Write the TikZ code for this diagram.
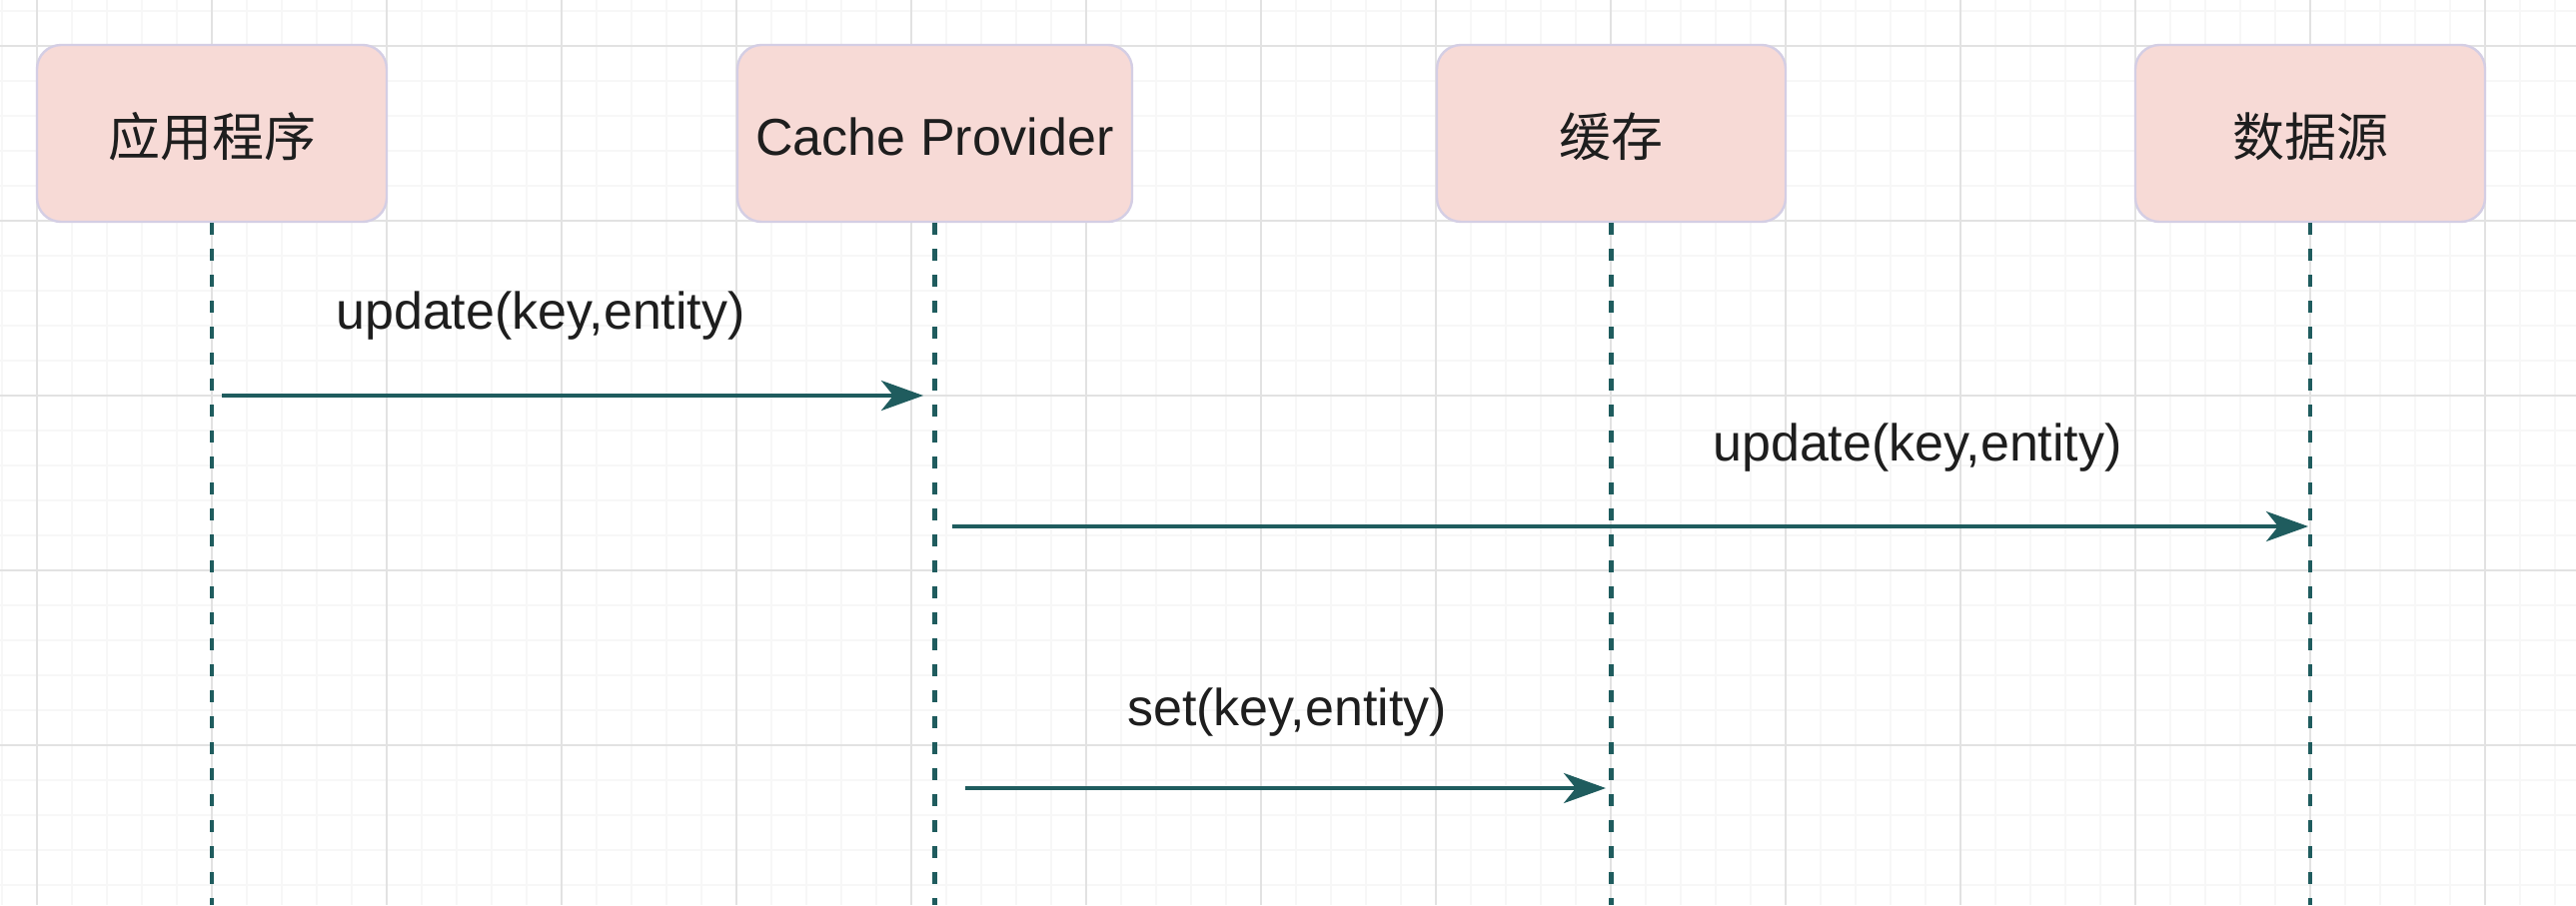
\documentclass[tikz,border=0pt]{standalone}
\usepackage{fontspec}
\setmainfont{Liberation Sans}
\newfontfamily\cjk{Noto Sans CJK SC}
\usetikzlibrary{arrows.meta}
\definecolor{teal1}{HTML}{1F5C5E}
\definecolor{boxfill}{HTML}{F7DAD6}
\definecolor{boxline}{HTML}{D4CEE4}
\definecolor{gridmaj}{HTML}{E2E2E2}
\definecolor{gridmin}{HTML}{F7F7F7}
\definecolor{txt}{HTML}{1E1E1E}
\tikzset{
  actor/.style={draw=boxline, line width=1.2pt, fill=boxfill, rounded corners=12pt,
    minimum height=88.5pt, text=txt, font=\fontsize{26}{30}\selectfont, inner sep=0pt},
  life/.style={draw=teal1, line width=2.2pt, dash pattern=on 6pt off 7pt},
  msg/.style={draw=teal1, line width=2pt, -{Stealth[length=21pt, width=15pt, inset=6pt]}},
  lbl/.style={text=txt, font=\fontsize{26}{30}\selectfont, inner sep=0pt},
  minorline/.style={draw=gridmin, line width=0.8pt},
  majorline/.style={draw=gridmaj, line width=1pt}
}
\begin{document}
\begin{tikzpicture}[x=0.5pt,y=-0.5pt]
\useasboundingbox (0,0) rectangle (2578,906);
\fill[white] (0,0) rectangle (2578,906);
% grid
\foreach \j in {-1,...,72} {\draw[minorline] (37+35*\j,0) -- (37+35*\j,906);}
\foreach \j in {-1,...,25} {\draw[minorline] (0,46+35*\j) -- (2578,46+35*\j);}
\foreach \k in {0,...,14} {\draw[majorline] (37+175*\k,0) -- (37+175*\k,906);}
\foreach \k in {0,...,5} {\draw[majorline] (0,46+175*\k) -- (2578,46+175*\k);}
% bottom reference
\coordinate (bot) at (0,906);
% actors
\node[actor, minimum width=175pt] (app) at (212,133.5) {};
\node[actor, minimum width=197.5pt] (cp) at (935.5,133.5) {};
\node[actor, minimum width=174.5pt] (cache) at (1612.5,133.5) {};
\node[actor, minimum width=175pt] (ds) at (2312,133.5) {};
\node[lbl] (appt) at (212,137) {\cjk 应用程序};
\node[lbl] (cpt) at (935.5,137) {Cache Provider};
\node[lbl] (cachet) at (1612.5,137) {\cjk 缓存};
\node[lbl] (dst) at (2312,137) {\cjk 数据源};
% lifelines
\draw[life] (app.south) -- (app.south |- bot);
\draw[life] (cp.south) -- (cp.south |- bot);
\draw[life] (cache.south) -- (cache.south |- bot);
\draw[life] (ds.south) -- (ds.south |- bot);
% message end points
\coordinate (m1s) at (222,396);
\coordinate (m1e) at (924,396);
\coordinate (m2s) at (953,527);
\coordinate (m2e) at (2310,527);
\coordinate (m3s) at (966,789);
\coordinate (m3e) at (1607,789);
\draw[msg] (m1s) -- (m1e);
\draw[msg] (m2s) -- (m2e);
\draw[msg] (m3s) -- (m3e);
% labels
\node[lbl] (l1) at (541,316) {update(key,entity)};
\node[lbl] (l2) at (1919,448) {update(key,entity)};
\node[lbl] (l3) at (1288,713) {set(key,entity)};
\end{tikzpicture}
\end{document}
